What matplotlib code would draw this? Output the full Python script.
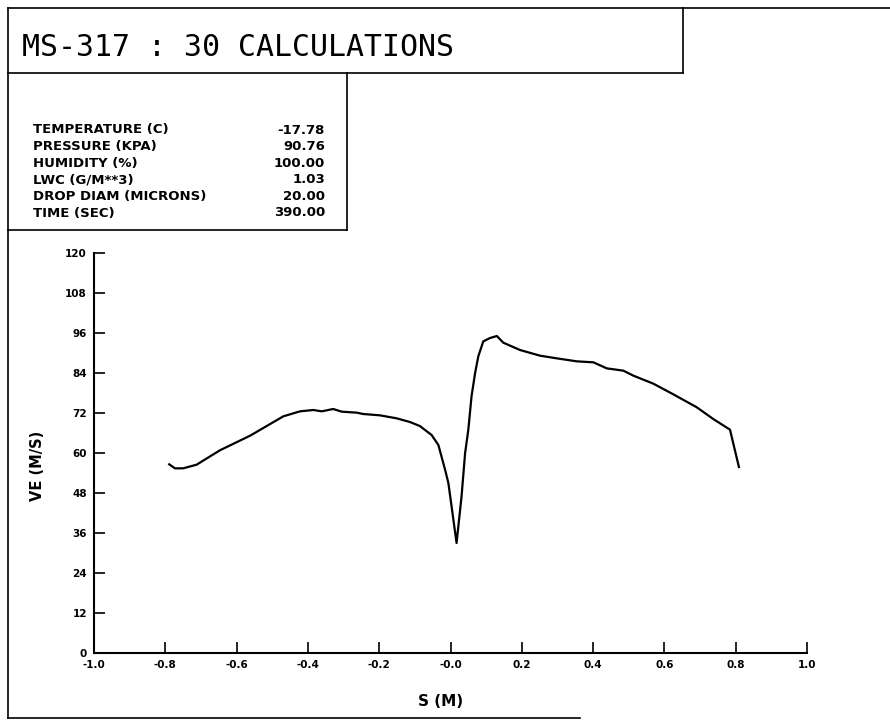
import matplotlib
matplotlib.use("Agg")
import matplotlib.pyplot as plt

# ---- data ----
s_m = [-0.789, -0.773, -0.750, -0.712, -0.647, -0.562, -0.469, -0.422, -0.385,
       -0.361, -0.329, -0.305, -0.263, -0.245, -0.198, -0.151, -0.114, -0.086,
       -0.053, -0.034, -0.015, -0.006, 0.003, 0.017, 0.031, 0.041, 0.050, 0.059,
       0.069, 0.078, 0.092, 0.111, 0.130, 0.148, 0.195, 0.251, 0.298, 0.354,
       0.401, 0.438, 0.485, 0.513, 0.569, 0.625, 0.691, 0.737, 0.784, 0.809]
ve = [56.6, 55.4, 55.4, 56.5, 60.8, 65.2, 71.0, 72.5, 72.9,
      72.5, 73.2, 72.4, 72.1, 71.7, 71.3, 70.4, 69.3, 68.1,
      65.4, 62.4, 54.9, 51.0, 44.0, 33.0, 47.0, 60.0, 67.0, 77.0,
      84.0, 89.0, 93.5, 94.5, 95.1, 93.1, 90.9, 89.2, 88.4, 87.5,
      87.2, 85.4, 84.7, 83.2, 80.8, 77.6, 73.7, 70.2, 67.0, 55.8]

xticks = [-1.0, -0.8, -0.6, -0.4, -0.2, 0.0, 0.2, 0.4, 0.6, 0.8, 1.0]
xtick_labels = ["-1.0", "-0.8", "-0.6", "-0.4", "-0.2", "-0.0", "0.2", "0.4", "0.6", "0.8", "1.0"]
yticks = [0, 12, 24, 36, 48, 60, 72, 84, 96, 108, 120]

title = "MS-317 : 30 CALCULATIONS"
param_names = ["TEMPERATURE (C)", "PRESSURE (KPA)", "HUMIDITY (%)",
               "LWC (G/M**3)", "DROP DIAM (MICRONS)", "TIME (SEC)"]
param_values = ["-17.78", "90.76", "100.00", "1.03", "20.00", "390.00"]

W, H = 890, 723
fig = plt.figure(figsize=(W / 100, H / 100), dpi=100)

# frame / boxes drawn in pixel coords on a full-figure overlay
frame = fig.add_axes([0, 0, 1, 1])
frame.set_xlim(0, W)
frame.set_ylim(H, 0)
frame.axis("off")
lw = 1.2
frame.plot([8, W], [8, 8], color="black", lw=lw)
frame.plot([8, 8], [8, 718], color="black", lw=lw)
frame.plot([8, 580], [718, 718], color="black", lw=lw)
frame.plot([683, 683], [8, 73], color="black", lw=lw)
frame.plot([8, 683], [73, 73], color="black", lw=lw)
frame.plot([347, 347], [73, 230], color="black", lw=lw)
frame.plot([8, 347], [230, 230], color="black", lw=lw)

frame.text(22, 47, title, fontsize=21.5, family="DejaVu Sans Mono",
           ha="left", va="center")

row_y = [130, 146.6, 163.2, 179.8, 196.4, 213]
for yy, name, val in zip(row_y, param_names, param_values):
    frame.text(33, yy, name, fontsize=9.5, fontweight="bold",
               family="DejaVu Sans", ha="left", va="center")
    frame.text(325, yy, val, fontsize=9.5, fontweight="bold",
               family="DejaVu Sans", ha="right", va="center")

frame.text(38, 466, "VE (M/S)", fontsize=10.5, fontweight="bold", rotation=90,
           ha="center", va="center")
frame.text(441, 702, "S (M)", fontsize=11, fontweight="bold",
           ha="center", va="center")

# main plot
ax = fig.add_axes([94 / W, 1 - 653 / H, (807 - 94) / W, (653 - 253) / H])
ax.plot(s_m, ve, color="black", lw=1.6)
ax.set_xlim(-1.0, 1.0)
ax.set_ylim(0, 120)
ax.set_xticks(xticks)
ax.set_xticklabels(xtick_labels)
ax.set_yticks(yticks)
ax.spines["top"].set_visible(False)
ax.spines["right"].set_visible(False)
ax.spines["left"].set_linewidth(1.5)
ax.spines["bottom"].set_linewidth(1.5)
ax.tick_params(direction="in", length=8, width=1.2, labelsize=7.5, pad=5)
for lab in ax.get_xticklabels() + ax.get_yticklabels():
    lab.set_fontweight("bold")
ax.patch.set_alpha(0)

fig.savefig("out.png", dpi=100)
